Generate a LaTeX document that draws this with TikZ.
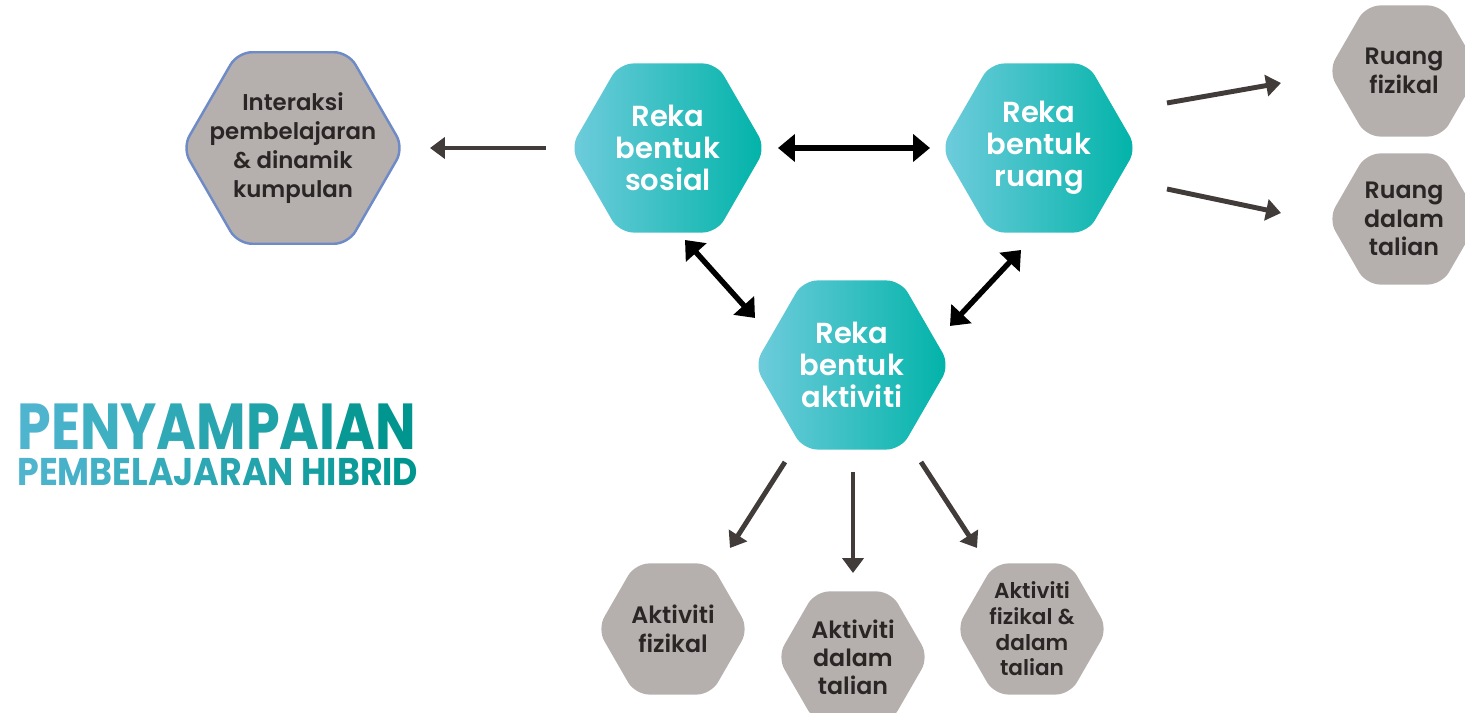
\documentclass[tikz,border=0pt]{standalone}
\usepackage{fontspec}
\newfontfamily\hexfont{Poppins}[UprightFont=* SemiBold]
\newfontfamily\titlefont{Poppins}[UprightFont=* Bold]
\usetikzlibrary{arrows.meta,calc,shapes.geometric}
\definecolor{hexgray}{HTML}{B5B0AD}
\definecolor{hexedge}{HTML}{6E8BC7}
\definecolor{tealL}{HTML}{6FCCDC}
\definecolor{tealR}{HTML}{00B3A8}
\definecolor{arrowgray}{HTML}{413B39}
\definecolor{txtgray}{HTML}{2B2626}
\definecolor{titleL}{HTML}{4FB5CF}
\definecolor{titleR}{HTML}{00968F}
\tikzset{
  hexa/.style={regular polygon, regular polygon sides=6, minimum size={#1*0.5669pt}, inner sep=0pt, outer sep=0pt, rounded corners=8pt},
  hexteal/.style={hexa=#1, left color=tealL, right color=tealR},
  hexgrey/.style={hexa=#1, fill=hexgray},
  tealtxt/.style={text=white, align=center, font=\hexfont\fontsize{16.5}{18.1}\selectfont},
  greytxt/.style={text=txtgray, align=center, font=\hexfont\fontsize#1\selectfont},
  dblarrow/.style={black, line width=3.1pt, {Triangle[length=9.6pt,width=15.3pt]}-{Triangle[length=9.6pt,width=15.3pt]}},
  fwdarrow/.style={arrowgray, line width=2.8pt, -{Triangle[length=8.5pt,width=12pt]}},
}

\begin{document}
\begin{tikzpicture}[x=0.02cm, y=0.02cm]
	\useasboundingbox (0,0) rectangle (1465,713);
	\clip (0,0) rectangle (1465,713);
	
	%%%%% hexagons %%%%%
	\node[hexgrey=222, draw=hexedge, line width=1.4pt, label={[greytxt={{13}{16.4}}]center:Interaksi\\pembelajaran\\\&~dinamik\\kumpulan}] (interaksi) at (293,565) {};
	
	\node[hexteal=196, label={[tealtxt]center:Reka\\bentuk\\sosial}] (sosial) at (668,565) {};
	\node[hexteal=196, label={[tealtxt]center:Reka\\bentuk\\ruang}] (ruang) at (1039,565) {};
	\node[hexteal=196, label={[tealtxt]center:Reka\\bentuk\\aktiviti}] (aktiviti) at (852,348) {};
	
	\node[hexgrey=152, label={[greytxt={{13.5}{16.2}}]center:Ruang\\fizikal}] (rfizikal) at (1404,642) {};
	\node[hexgrey=152, label={[greytxt={{13.5}{16.2}}]center:Ruang\\dalam\\talian}] (rtalian) at (1404,494) {};
	
	\node[hexgrey=152, label={[greytxt={{13.5}{16.2}}]center:Aktiviti\\fizikal}] (afizikal) at (673,84) {};
	\node[hexgrey=152, label={[greytxt={{13.5}{16}}]center:Aktiviti\\dalam\\talian}] (atalian) at (853,56) {};
	\node[hexgrey=152, label={[greytxt={{12.3}{14.6}}]center:Aktiviti\\fizikal \&\\dalam\\talian}] (afd) at (1032,84) {};
	
	%%%%% arrows %%%%%
	\draw[fwdarrow] ($(sosial)+(-122,0)$) -- ($(interaksi)+(137,0)$);
	\draw[dblarrow] ($(sosial)+(110,0)$) -- ($(ruang)+(-109,0)$);
	\draw[dblarrow] ($(sosial)+(17,-92)$) -- ($(aktiviti)+(-97,47)$);
	\draw[dblarrow] ($(ruang)+(-18,-102)$) -- ($(aktiviti)+(98,39)$);
	
	\draw[fwdarrow] ($(ruang)+(128,45)$) -- ($(rfizikal)+(-123,-12)$);
	\draw[fwdarrow] ($(ruang)+(128,-41)$) -- ($(rtalian)+(-123,6)$);
	
	\draw[fwdarrow] ($(aktiviti)+(-67,-97)$) -- ($(afizikal)+(57,81)$);
	\draw[fwdarrow] ($(aktiviti)+(1,-107)$) -- ($(atalian)+(0,84)$);
	\draw[fwdarrow] ($(aktiviti)+(69,-97)$) -- ($(afd)+(-55,81)$);
	
	%%%%% title %%%%%
	\node[anchor=base west, inner sep=0pt, text depth=0pt, font=\titlefont\fontsize{37}{40}\selectfont] (judul) at (17,263)
		{\scalebox{0.83}[1]{\foreach \ch [count=\i] in {P,E,N,Y,A,M,P,A,I,A,N}{\pgfmathtruncatemacro\p{100*(\i-1)/10}\textcolor{titleR!\p!titleL}{\ch}}}};
	\node[anchor=base west, inner sep=0pt, text depth=0pt, text height=15pt, font=\titlefont\fontsize{22}{24}\selectfont] (subjudul) at (17,227)
		{\scalebox{0.9}[1]{\foreach \ch [count=\i] in {P,E,M,B,E,L,A,J,A,R,A,N,{\ },H,I,B,R,I,D}{\pgfmathtruncatemacro\p{100*(\i-1)/18}\textcolor{titleR!\p!titleL}{\ch}}}};
\end{tikzpicture}
\end{document}
